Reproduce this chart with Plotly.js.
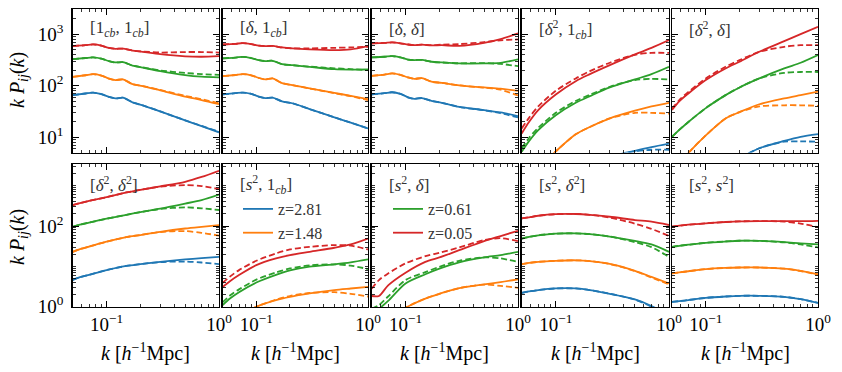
<!DOCTYPE html>
<html>
<head>
<meta charset="utf-8">
<script src="https://cdn.plot.ly/plotly-3.0.1.min.js"></script>
<style>
body { margin: 0; background: #fff; }
#chart { width: 842px; height: 372px; }
</style>
</head>
<body>
<div id="chart"></div>
<script>
// wavenumbers (h/Mpc)
var kWiggle = [0.05, 0.065, 0.076, 0.09, 0.105, 0.12, 0.14, 0.17, 0.21, 0.3, 0.5, 0.7, 1.0];
var kSmooth = [0.05, 0.058, 0.07, 0.1, 0.15, 0.2, 0.3, 0.5, 0.7, 1.0];

var zLabels = ["z=2.81", "z=1.48", "z=0.61", "z=0.05"];
var zColors = ["#1f77b4", "#ff7f0e", "#2ca02c", "#d62728"];

var panelTitles = [
    "[1<sub><i>cb</i></sub>, 1<sub><i>cb</i></sub>]",
    "[<i>δ</i>, 1<sub><i>cb</i></sub>]",
    "[<i>δ</i>, <i>δ</i>]",
    "[<i>δ</i><sup>2</sup>, 1<sub><i>cb</i></sub>]",
    "[<i>δ</i><sup>2</sup>, <i>δ</i>]",
    "[<i>δ</i><sup>2</sup>, <i>δ</i><sup>2</sup>]",
    "[<i>s</i><sup>2</sup>, 1<sub><i>cb</i></sub>]",
    "[<i>s</i><sup>2</sup>, <i>δ</i>]",
    "[<i>s</i><sup>2</sup>, <i>δ</i><sup>2</sup>]",
    "[<i>s</i><sup>2</sup>, <i>s</i><sup>2</sup>]"
];

// k P_ij(k), one row per redshift (2.81, 1.48, 0.61, 0.05); solid and dashed curves
var p1Solid = [
    [66, 71, 74, 69, 61, 57, 59, 48, 42, 32, 21.5, 16.6, 12.6],
    [149, 160, 168, 158, 138, 129, 133, 108, 99, 82, 62, 53, 44],
    [328, 345, 354, 335, 300, 283, 287, 246, 225, 192, 161, 150, 145],
    [586, 610, 631, 600, 540, 520, 525, 480, 455, 410, 372, 365, 375]
];
var p1Dashed = [
    [66, 71, 74, 69, 61, 57, 59, 48, 42, 32, 21.5, 16.8, 12.9],
    [149, 160, 168, 158, 138, 129, 133, 108, 99, 83, 64, 55, 46],
    [328, 345, 354, 335, 300, 283, 287, 246, 227, 198, 178, 168, 163],
    [586, 610, 631, 600, 540, 520, 525, 482, 462, 440, 450, 450, 440]
];
var p2Solid = [
    [68, 72, 74, 70, 62, 58, 59, 50, 46, 35.4, 24.6, 19.4, 15],
    [154, 162, 168, 160, 142, 133, 139, 113, 103, 89, 73, 64, 55],
    [339, 352, 364, 345, 315, 301, 305, 262, 251, 233, 210, 206, 207],
    [631, 650, 670, 640, 600, 586, 590, 552, 528, 506, 490, 506, 586]
];
var p2Dashed = [
    [68, 72, 74, 70, 62, 58, 59, 50, 46, 35.4, 24.6, 19.4, 15],
    [154, 162, 168, 160, 142, 133, 139, 113, 103, 89, 72, 63, 53],
    [339, 352, 364, 345, 315, 301, 305, 262, 251, 235, 218, 210, 201],
    [631, 650, 670, 640, 600, 586, 590, 552, 530, 530, 543, 552, 569]
];
var p3Solid = [
    [68, 72, 75, 70, 60, 56, 58, 51, 47, 39, 34, 30.5, 26],
    [156, 165, 174, 163, 145, 136, 141, 120, 114, 102, 93, 88, 80],
    [354, 365, 375, 355, 322, 314, 318, 292, 283, 271, 271, 279, 324],
    [660, 675, 690, 665, 630, 612, 625, 605, 610, 594, 680, 800, 1030]
];
var p3Dashed = [
    [68, 72, 75, 70, 60, 56, 58, 51, 47, 39, 33.5, 29.5, 24.5],
    [156, 165, 174, 163, 145, 136, 141, 120, 114, 102, 92, 84, 65],
    [354, 365, 375, 355, 322, 314, 318, 292, 283, 273, 275, 265, 240],
    [660, 675, 690, 665, 630, 612, 625, 610, 625, 640, 700, 760, 790]
];
var p4Solid = [
    [0.3, 0.4, 0.6, 1.1, 1.9, 2.6, 4.2, 5.5, 6.5, 7.6],
    [1.2, 1.8, 2.6, 5.4, 11.5, 16, 23.5, 33, 40, 47],
    [5.3, 8.5, 13.9, 27, 47, 63, 93, 133, 168, 233],
    [12, 20, 34, 68, 123, 168, 251, 405, 540, 766]
];
var p4Dashed = [
    [0.3, 0.4, 0.6, 1.1, 1.9, 2.6, 4.2, 5.4, 5.8, 5.8],
    [1.2, 1.8, 2.6, 5.4, 11.5, 16, 23.5, 30, 30, 29],
    [6.2, 9.8, 15.4, 30, 51, 67, 96, 129, 136, 133],
    [15, 24, 40, 80, 139, 192, 279, 398, 434, 434]
];
var p5Solid = [
    [0.3, 0.4, 0.6, 1.2, 2.5, 3.9, 6.2, 8.6, 10.3, 11.6],
    [2, 3, 5, 11, 23.4, 31, 44, 57, 66, 77],
    [10.3, 14, 20, 37, 66, 93, 139, 217, 279, 393],
    [34, 50, 71, 129, 217, 292, 455, 733, 1000, 1385]
];
var p5Dashed = [
    [0.3, 0.4, 0.6, 1.2, 2.5, 3.9, 6.2, 8.3, 8.4, 8.3],
    [2, 3, 5, 11, 23.4, 31, 40, 42, 42, 41],
    [10.3, 14, 20, 37, 66, 93, 139, 178, 185, 185],
    [36, 53, 76, 139, 233, 314, 455, 569, 612, 612]
];
var p6Solid = [
    [4.6, 5.4, 6.2, 8.1, 10.3, 11.4, 13, 14.9, 16, 17.3],
    [23, 27, 31, 41, 53, 60, 72, 87, 96, 106],
    [96, 108, 122, 152, 190, 222, 270, 360, 440, 600],
    [332, 370, 420, 520, 680, 790, 960, 1250, 1650, 2350]
];
var p6Dashed = [
    [4.6, 5.4, 6.2, 8.1, 10.3, 11.4, 12.8, 13.2, 12.5, 11.4],
    [23, 27, 31, 41, 53, 60, 71, 75, 68, 58],
    [96, 108, 122, 152, 190, 222, 265, 290, 275, 250],
    [332, 370, 420, 520, 680, 790, 950, 1030, 980, 820]
];
var p7Solid = [
    [0.04, 0.05, 0.07, 0.12, 0.2, 0.27, 0.35, 0.42, 0.45, 0.48],
    [0.3, 0.4, 0.6, 1.0, 1.46, 1.76, 2.14, 2.6, 2.84, 3.1],
    [1.1, 1.6, 2.3, 4.0, 6.2, 8.0, 9.9, 11.3, 12.6, 14.9],
    [3.1, 4.3, 6.1, 10.8, 15.8, 19, 23, 29, 35, 49]
];
var p7Dashed = [
    [0.04, 0.05, 0.07, 0.12, 0.2, 0.27, 0.35, 0.4, 0.38, 0.33],
    [0.3, 0.4, 0.6, 1.0, 1.5, 1.85, 2.2, 2.3, 2.1, 1.8],
    [1.3, 1.9, 2.7, 4.7, 7.1, 8.9, 10.6, 11.3, 10.5, 8.6],
    [3.9, 5.6, 8.1, 13.8, 21, 26.3, 30.6, 33.8, 32.7, 26.3]
];
var p8Solid = [
    [0.03, 0.04, 0.06, 0.1, 0.17, 0.22, 0.3, 0.37, 0.4, 0.44],
    [0.3, 0.35, 0.5, 0.95, 1.6, 2.1, 2.9, 3.6, 4.1, 4.8],
    [0.75, 0.9, 1.4, 3.8, 6.4, 8.8, 12.6, 16.7, 19, 23],
    [1.85, 1.85, 3.4, 7.0, 13, 16.7, 25.3, 42.5, 56.5, 76.5]
];
var p8Dashed = [
    [0.03, 0.04, 0.06, 0.1, 0.17, 0.22, 0.3, 0.35, 0.33, 0.28],
    [0.3, 0.35, 0.5, 0.95, 1.6, 2.1, 2.9, 3.55, 3.3, 2.95],
    [0.9, 1.1, 1.8, 4.6, 7.2, 9.8, 13.8, 16.7, 15.8, 13],
    [2.8, 4.6, 6.7, 11.9, 18, 21.8, 29.5, 45, 50, 42.5]
];
var p9Solid = [
    [2.2, 2.4, 2.6, 2.85, 2.85, 2.6, 2.1, 1.52, 1.05, 0.6],
    [11.4, 12.2, 13, 13.8, 14.2, 13.6, 11.5, 7.8, 5.5, 3.8],
    [49, 54, 59, 65, 66, 63, 55, 43, 35, 23],
    [155, 165, 180, 197, 199, 190, 170, 141, 128, 106]
];
var p9Dashed = [
    [2.2, 2.4, 2.6, 2.85, 2.85, 2.6, 2.1, 1.5, 1.0, 0.55],
    [11.4, 12.2, 13, 13.8, 14.2, 13.6, 11.5, 7.7, 5.3, 3.6],
    [49, 54, 59, 65, 66, 63, 55, 40, 30, 17.3],
    [155, 165, 180, 197, 199, 190, 162, 115, 85, 57]
];
var p10Solid = [
    [1.32, 1.38, 1.47, 1.66, 1.8, 1.87, 1.87, 1.77, 1.55, 1.25],
    [6.7, 7.1, 7.6, 8.6, 9.2, 9.4, 9.4, 8.8, 7.8, 6.4],
    [30.6, 32.5, 34.5, 38.5, 41.5, 43.3, 43, 40, 37.2, 35],
    [96, 102, 108, 117, 126, 131, 133, 132, 132, 135]
];
var p10Dashed = [
    [1.32, 1.38, 1.47, 1.66, 1.8, 1.87, 1.87, 1.77, 1.55, 1.25],
    [6.7, 7.1, 7.6, 8.6, 9.2, 9.4, 9.4, 8.8, 7.7, 6.2],
    [30.6, 32.5, 34.5, 38.5, 41.5, 43.3, 43, 39.5, 35, 29.5],
    [96, 102, 108, 117, 126, 131, 133, 129, 115, 94]
];

var panelSolid = [p1Solid, p2Solid, p3Solid, p4Solid, p5Solid, p6Solid, p7Solid, p8Solid, p9Solid, p10Solid];
var panelDashed = [p1Dashed, p2Dashed, p3Dashed, p4Dashed, p5Dashed, p6Dashed, p7Dashed, p8Dashed, p9Dashed, p10Dashed];
var panelK = [kWiggle, kWiggle, kWiggle, kSmooth, kSmooth, kSmooth, kSmooth, kSmooth, kSmooth, kSmooth];

// panel boxes in pixels
var W = 842, H = 372;
var colLeft = [72.7, 222.7, 371.7, 521.7, 672];
var colRight = [219, 368, 518, 669, 818];
var rowTop = [9.3, 164.3];
var rowBottom = [152.5, 307];

var serif = "Liberation Serif, DejaVu Serif, serif";

var xMinor = [0.05, 0.06, 0.07, 0.08, 0.09, 0.2, 0.3, 0.4, 0.5, 0.6, 0.7, 0.8, 0.9];
var yMinor = [2, 3, 4, 5, 6, 7, 8, 9, 10, 20, 30, 40, 50, 60, 70, 80, 90,
    200, 300, 400, 500, 600, 700, 800, 900, 1000, 2000, 3000];

var traces = [];
for (var p = 0; p < 10; p++) {
    var ax = p === 0 ? "" : String(p + 1);
    for (var z = 0; z < 4; z++) {
        var leg = (p === 6 && z < 2) || (p === 7 && z >= 2);
        traces.push({
            x: panelK[p], y: panelSolid[p][z], xaxis: "x" + ax, yaxis: "y" + ax,
            type: "scatter", mode: "lines", name: zLabels[z],
            line: {color: zColors[z], width: 1.8, shape: "spline", smoothing: 0.8},
            showlegend: leg, legend: z < 2 ? "legend" : "legend2"
        });
        traces.push({
            x: panelK[p], y: panelDashed[p][z], xaxis: "x" + ax, yaxis: "y" + ax,
            type: "scatter", mode: "lines", name: zLabels[z] + " dashed",
            line: {color: zColors[z], width: 1.8, dash: "6px,3px", shape: "spline", smoothing: 0.8},
            showlegend: false
        });
    }
}

var layout = {
    width: W, height: H,
    margin: {l: 0, r: 0, t: 0, b: 0},
    paper_bgcolor: "#fff", plot_bgcolor: "#fff",
    font: {family: serif, size: 18, color: "#000"},
    legend: {x: 238 / W, y: 1 - 192 / H, xanchor: "left", yanchor: "top",
        bgcolor: "rgba(0,0,0,0)", font: {size: 16, color: "#333"}, itemwidth: 30, tracegroupgap: 0},
    legend2: {x: 388 / W, y: 1 - 192 / H, xanchor: "left", yanchor: "top",
        bgcolor: "rgba(0,0,0,0)", font: {size: 16, color: "#333"}, itemwidth: 30, tracegroupgap: 0},
    annotations: []
};

for (var p = 0; p < 10; p++) {
    var col = p % 5, row = Math.floor(p / 5);
    var ax = p === 0 ? "" : String(p + 1);
    var common = {
        type: "log", showline: true, linecolor: "#000", linewidth: 1.4, mirror: "allticks",
        ticks: "inside", ticklen: 6, tickwidth: 1, tickcolor: "#000",
        showgrid: false, zeroline: false
    };
    layout["xaxis" + ax] = Object.assign({}, common, {
        domain: [colLeft[col] / W, colRight[col] / W],
        anchor: "y" + ax,
        range: [Math.log10(0.05), 0],
        tickmode: "array", tickvals: [0.1, 1], ticktext: ["10<sup>−1</sup>", "10<sup>0</sup>"],
        showticklabels: row === 1, tickfont: {size: 19},
        minor: {tickmode: "array", tickvals: xMinor, ticks: "inside", ticklen: 3, tickwidth: 0.8, tickcolor: "#000", showgrid: false}
    });
    layout["yaxis" + ax] = Object.assign({}, common, {
        domain: [1 - rowBottom[row] / H, 1 - rowTop[row] / H],
        anchor: "x" + ax,
        range: row === 0 ? [0.71, 3.48] : [-0.005, 3.53],
        tickmode: "array",
        tickvals: row === 0 ? [10, 100, 1000] : [1, 100],
        ticktext: row === 0 ? ["10<sup>1</sup>", "10<sup>2</sup>", "10<sup>3</sup>"] : ["10<sup>0</sup>", "10<sup>2</sup>"],
        showticklabels: col === 0, ticklabelstandoff: 4, tickfont: {size: 19},
        minor: {tickmode: "array", tickvals: yMinor, ticks: "inside", ticklen: 3, tickwidth: 0.8, tickcolor: "#000", showgrid: false}
    });
    layout.annotations.push({
        text: panelTitles[p], xref: "x" + ax + " domain", yref: "y" + ax + " domain",
        x: 15 / 146, y: 1 - 20 / 143, xanchor: "left", yanchor: "middle",
        showarrow: false, font: {size: 17, color: "#333"}
    });
    if (row === 1) {
        layout.annotations.push({
            text: "<i>k</i> [<i>h</i><sup>−1</sup>Mpc]", xref: "paper", yref: "paper",
            x: (colLeft[col] + colRight[col]) / 2 / W, y: 1 - 352 / H,
            xanchor: "center", yanchor: "middle", showarrow: false, font: {size: 20}
        });
    }
}
[80, 237].forEach(function(yc) {
    layout.annotations.push({
        text: "<i>k</i> <i>P<sub>ij</sub></i>(<i>k</i>)", xref: "paper", yref: "paper",
        x: 18 / W, y: 1 - yc / H, textangle: -90,
        xanchor: "center", yanchor: "middle", showarrow: false, font: {size: 20}
    });
});

Plotly.newPlot("chart", traces, layout, {staticPlot: true});
</script>
</body>
</html>
